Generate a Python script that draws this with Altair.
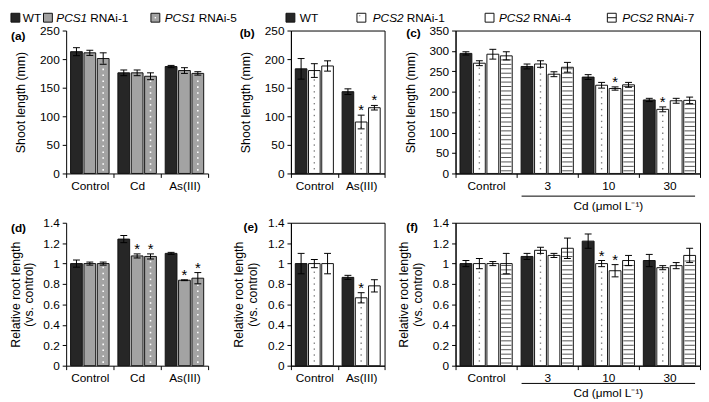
import altair as alt
import pandas as pd

# ---------------- data ----------------
groups_ad = ["Control", "Cd", "As(III)"]
groups_be = ["Control", "As(III)"]
groups_cf = ["Control", "3", "10", "30"]

series_ad = ["WT", "PCS1 RNAi-1", "PCS1 RNAi-5"]
series_be = ["WT", "PCS2 RNAi-1", "PCS2 RNAi-4"]
series_cf = ["WT", "PCS2 RNAi-1", "PCS2 RNAi-4", "PCS2 RNAi-7"]
all_series = ["WT", "PCS1 RNAi-1", "PCS1 RNAi-5", "PCS2 RNAi-1", "PCS2 RNAi-4", "PCS2 RNAi-7"]

# (a) shoot length, PCS1 lines
shoot_a = [[213, 211, 201], [176, 176, 170], [187, 180, 175]]
shoot_a_err = [[7, 4.5, 10], [5, 5, 6], [2, 5, 3]]
shoot_a_sig = [[0, 0, 0], [0, 0, 0], [0, 0, 0]]

# (b) shoot length, PCS2 lines, As(III)
shoot_b = [[183, 180, 188], [143, 90, 115]]
shoot_b_err = [[18, 12, 9], [5, 12, 4]]
shoot_b_sig = [[0, 0, 0], [0, 1, 1]]

# (c) shoot length, PCS2 lines, Cd series
shoot_c = [[294, 270, 292, 288], [262, 268, 243, 260], [236, 216, 208, 217], [180, 157, 178, 179]]
shoot_c_err = [[4, 6, 12, 10], [6, 8, 6, 12], [6, 7, 4, 6], [4, 6, 6, 8]]
shoot_c_sig = [[0, 0, 0, 0], [0, 0, 0, 0], [0, 0, 1, 0], [0, 1, 0, 0]]

# (d) relative root length, PCS1 lines
root_d = [[1.0, 1.0, 1.0], [1.24, 1.075, 1.07], [1.10, 0.837, 0.857]]
root_d_err = [[0.035, 0.015, 0.015], [0.035, 0.02, 0.025], [0.01, 0.004, 0.055]]
root_d_sig = [[0, 0, 0], [0, 1, 1], [0, 1, 1]]

# (e) relative root length, PCS2 lines, As(III)
root_e = [[1.0, 1.0, 1.0], [0.865, 0.665, 0.782]]
root_e_err = [[0.1, 0.04, 0.1], [0.02, 0.05, 0.06]]
root_e_sig = [[0, 0, 0], [0, 1, 0]]

# (f) relative root length, PCS2 lines, Cd series
root_f = [[1.0, 1.0, 1.0, 1.0], [1.07, 1.13, 1.08, 1.15], [1.22, 1.0, 0.93, 1.03], [1.03, 0.96, 0.98, 1.08]]
root_f_err = [[0.03, 0.05, 0.02, 0.1], [0.03, 0.03, 0.02, 0.1], [0.07, 0.03, 0.06, 0.05], [0.06, 0.02, 0.03, 0.07]]
root_f_sig = [[0, 0, 0, 0], [0, 0, 0, 0], [0, 1, 1, 0], [0, 0, 0, 0]]

ticks_250 = [0, 50, 100, 150, 200, 250]
ticks_350 = [0, 50, 100, 150, 200, 250, 300, 350]
ticks_root = [0, 0.2, 0.4, 0.6, 0.8, 1.0, 1.2, 1.4]

shoot_title = "Shoot length (mm)"
root_title = ["Relative root length", "(vs. control)"]
cd_unit_label = "Cd (\u03bcmol L\u207b\u00b9)"

# ---------------- styling ----------------
FONT = "Liberation Sans"
H = 145
SER_FILL = {
    "WT": "#262626",
    "PCS1 RNAi-1": "#a3a3a3",
    "PCS1 RNAi-5": "#a3a3a3",
    "PCS2 RNAi-1": "#ffffff",
    "PCS2 RNAi-4": "#ffffff",
    "PCS2 RNAi-7": "#ffffff",
}
SER_PATTERN = {"PCS1 RNAi-5": "dotw", "PCS2 RNAi-1": "dotg", "PCS2 RNAi-7": "stripe"}


def panel_df(groups, series, means, errs, sigs, ymax):
    ppu = H / ymax
    rows = []
    for gi, g in enumerate(groups):
        for si, s in enumerate(series):
            m, e = means[gi][si], errs[gi][si]

            def add(kind, v, v2=None):
                rows.append({"group": g, "series": s, "kind": kind, "v": v,
                             "v2": v if v2 is None else v2})

            add("bar", m, 0.0)
            add("err", m - e, m + e)
            add("cap", m - e)
            add("cap", m + e)
            if sigs[gi][si]:
                add("star", m + e)
            pat = SER_PATTERN.get(s)
            if pat == "dotw":
                step = 6.0 / ppu
                y = step * 0.6
                while y < m - step * 0.4:
                    add("dotw", y)
                    y += step
            elif pat == "dotg":
                step = 6.0 / ppu
                y = step * 0.8
                while y < m - step * 0.5:
                    add("dotg", y)
                    y += step
            elif pat == "stripe":
                step = 4.5 / ppu
                y = step * 0.6
                while y < m - step * 0.3:
                    add("stripe", y)
                    y += step
    return pd.DataFrame(rows)


ONE = pd.DataFrame({"k": [0]})


def legend_layers(items, ycen=-13):
    out = []
    for it in items:
        sx = it["sx"]
        kind = it["kind"]
        out.append(
            alt.Chart(ONE).mark_rect(fill=it["fill"], stroke="#111111", strokeWidth=1).encode(
                x=alt.value(sx), x2=alt.value(sx + 9), y=alt.value(ycen - 4.5), y2=alt.value(ycen + 4.5)
            )
        )
        if kind == "dotw":
            out.append(alt.Chart(ONE).mark_rect(fill="white").encode(
                x=alt.value(sx + 3.8), x2=alt.value(sx + 5.2), y=alt.value(ycen - 0.7), y2=alt.value(ycen + 0.7)))
        elif kind == "dotg":
            out.append(alt.Chart(ONE).mark_rect(fill="#777777").encode(
                x=alt.value(sx + 2.2), x2=alt.value(sx + 3.4), y=alt.value(ycen - 2.6), y2=alt.value(ycen - 1.4)))
        elif kind == "stripe":
            out.append(alt.Chart(ONE).mark_rule(color="#111111", strokeWidth=1).encode(
                x=alt.value(sx), x2=alt.value(sx + 9), y=alt.value(ycen)))
        tx = it["tx"]
        if it["it"]:
            out.append(alt.Chart(ONE).mark_text(text=it["it"], fontStyle="italic", align="left",
                                                baseline="middle", fontSize=12, color="black").encode(
                x=alt.value(tx), y=alt.value(ycen)))
            out.append(alt.Chart(ONE).mark_text(text=it["nm"], align="left", baseline="middle",
                                                fontSize=12, color="black").encode(
                x=alt.value(tx + 34.5), y=alt.value(ycen)))
        else:
            out.append(alt.Chart(ONE).mark_text(text=it["nm"], align="left", baseline="middle",
                                                fontSize=12, color="black").encode(
                x=alt.value(tx), y=alt.value(ycen)))
    return out


def make_panel(groups, series, means, errs, sigs, ymax, yticks, ytitle, plot_w, view_w, framed,
               label, lab_x, lab_y, title_pad, legend=None, cd=None):
    df = panel_df(groups, series, means, errs, sigs, ymax)
    x_enc = alt.X("group:N", sort=groups, title=None,
                  scale=alt.Scale(domain=groups, range=[0, plot_w], paddingInner=0, paddingOuter=0),
                  axis=alt.Axis(labelAngle=0, tickBand="extent", tickSize=4, labelPadding=3))
    xo_enc = alt.XOffset("series:N", sort=series,
                         scale=alt.Scale(domain=series, paddingInner=0.12, paddingOuter=0.33))
    y_enc = alt.Y("v:Q", title=ytitle, scale=alt.Scale(domain=[0, ymax], nice=False, zero=True),
                  axis=alt.Axis(values=yticks, format="~r", tickSize=4, labelPadding=3,
                                titlePadding=title_pad, titleLineHeight=14))
    y2_enc = alt.Y2("v2:Q")
    base = alt.Chart(df).encode(x=x_enc, xOffset=xo_enc)

    def sel(kind):
        return base.transform_filter(alt.datum.kind == kind)

    layers = [
        sel("bar").mark_bar(stroke="#111111", strokeWidth=1).encode(
            y=y_enc, y2=y2_enc,
            fill=alt.Fill("series:N",
                          scale=alt.Scale(domain=all_series, range=[SER_FILL[s] for s in all_series]),
                          legend=None)),
        sel("dotw").mark_bar(width=1.6, color="white", yOffset=-0.8, y2Offset=0.8).encode(y=y_enc, y2=y2_enc),
        sel("dotg").mark_bar(width=1.4, color="#808080", yOffset=-0.7, y2Offset=0.7).encode(y=y_enc, y2=y2_enc),
        sel("stripe").mark_bar(width=10.5, color="#555555", yOffset=-0.5, y2Offset=0.5).encode(y=y_enc, y2=y2_enc),
        sel("err").mark_bar(width=1, color="black").encode(y=y_enc, y2=y2_enc),
        sel("cap").mark_bar(width=7, color="black", yOffset=-0.5, y2Offset=0.5).encode(y=y_enc, y2=y2_enc),
        sel("star").mark_text(text="*", fontSize=15, baseline="alphabetic", dy=0, color="black").encode(y=y_enc),
        alt.Chart(ONE).mark_text(text=label, align="left", baseline="middle", fontWeight="bold",
                                 fontSize=12, color="black").encode(x=alt.value(lab_x), y=alt.value(lab_y)),
    ]
    if legend:
        layers += legend_layers(legend)
    if cd:
        ly, ty = cd
        layers.append(alt.Chart(ONE).mark_rule(color="black", strokeWidth=1).encode(
            x=alt.value(67), x2=alt.value(243), y=alt.value(H + ly)))
        layers.append(alt.Chart(ONE).mark_text(text=cd_unit_label, align="center", baseline="middle",
                                               fontSize=12, color="black").encode(
            x=alt.value(155), y=alt.value(H + ty)))
    ch = alt.layer(*layers)
    if framed:
        return ch.properties(width=view_w, height=H,
                             view=alt.ViewBackground(stroke="black", strokeWidth=1))
    return ch.properties(width=view_w, height=H)


legend_a = [
    {"kind": "plain", "fill": SER_FILL["WT"], "sx": -56, "tx": -44, "it": "", "nm": "WT"},
    {"kind": "plain", "fill": SER_FILL["PCS1 RNAi-1"], "sx": -23, "tx": -10, "it": "PCS1", "nm": "RNAi-1"},
    {"kind": "dotw", "fill": SER_FILL["PCS1 RNAi-5"], "sx": 86, "tx": 100, "it": "PCS1", "nm": "RNAi-5"},
]
legend_b = [
    {"kind": "plain", "fill": SER_FILL["WT"], "sx": -5, "tx": 9, "it": "", "nm": "WT"},
    {"kind": "dotg", "fill": SER_FILL["PCS2 RNAi-1"], "sx": 67, "tx": 83, "it": "PCS2", "nm": "RNAi-1"},
]
legend_c = [
    {"kind": "plain", "fill": SER_FILL["PCS2 RNAi-4"], "sx": 30, "tx": 44, "it": "PCS2", "nm": "RNAi-4"},
    {"kind": "stripe", "fill": SER_FILL["PCS2 RNAi-7"], "sx": 154, "tx": 169, "it": "PCS2", "nm": "RNAi-7"},
]

pa = make_panel(groups_ad, series_ad, shoot_a, shoot_a_err, shoot_a_sig, 250, ticks_250, shoot_title,
                144, 156, False, "(a)", -56, 6, 12, legend=legend_a)
pb = make_panel(groups_be, series_be, shoot_b, shoot_b_err, shoot_b_sig, 250, ticks_250, shoot_title,
                95, 95, True, "(b)", -52, 3, 12, legend=legend_b)
pc = make_panel(groups_cf, series_cf, shoot_c, shoot_c_err, shoot_c_sig, 350, ticks_350, shoot_title,
                248, 248, True, "(c)", -50, 3, 12, legend=legend_c, cd=(23, 33))
pd_ = make_panel(groups_ad, series_ad, root_d, root_d_err, root_d_sig, 1.4, ticks_root, root_title,
                 144, 156, False, "(d)", -56, 5, 7)
pe = make_panel(groups_be, series_be, root_e, root_e_err, root_e_sig, 1.4, ticks_root, root_title,
                95, 95, True, "(e)", -48, 4, 8)
pf = make_panel(groups_cf, series_cf, root_f, root_f_err, root_f_sig, 1.4, ticks_root, root_title,
                248, 248, True, "(f)", -50, 4, 8, cd=(18, 28))

chart = alt.concat(
    pa, pb, pc, pd_, pe, pf,
    columns=3,
    spacing={"row": 50, "column": 72},
    bounds="flush",
    align="each",
).resolve_scale(
    xOffset="independent"
).properties(
    padding={"left": 0, "top": 0, "right": 0, "bottom": 0}
).configure(
    font=FONT
).configure_view(
    stroke="transparent"
).configure_axis(
    labelFont=FONT, titleFont=FONT, labelFontSize=12, titleFontSize=12.5, titleFontWeight="normal",
    labelColor="black", titleColor="black", domainColor="black", tickColor="black",
    domainWidth=1, tickWidth=1, grid=False
)

chart.save("out.html", embed_options={"renderer": "svg", "actions": False})
